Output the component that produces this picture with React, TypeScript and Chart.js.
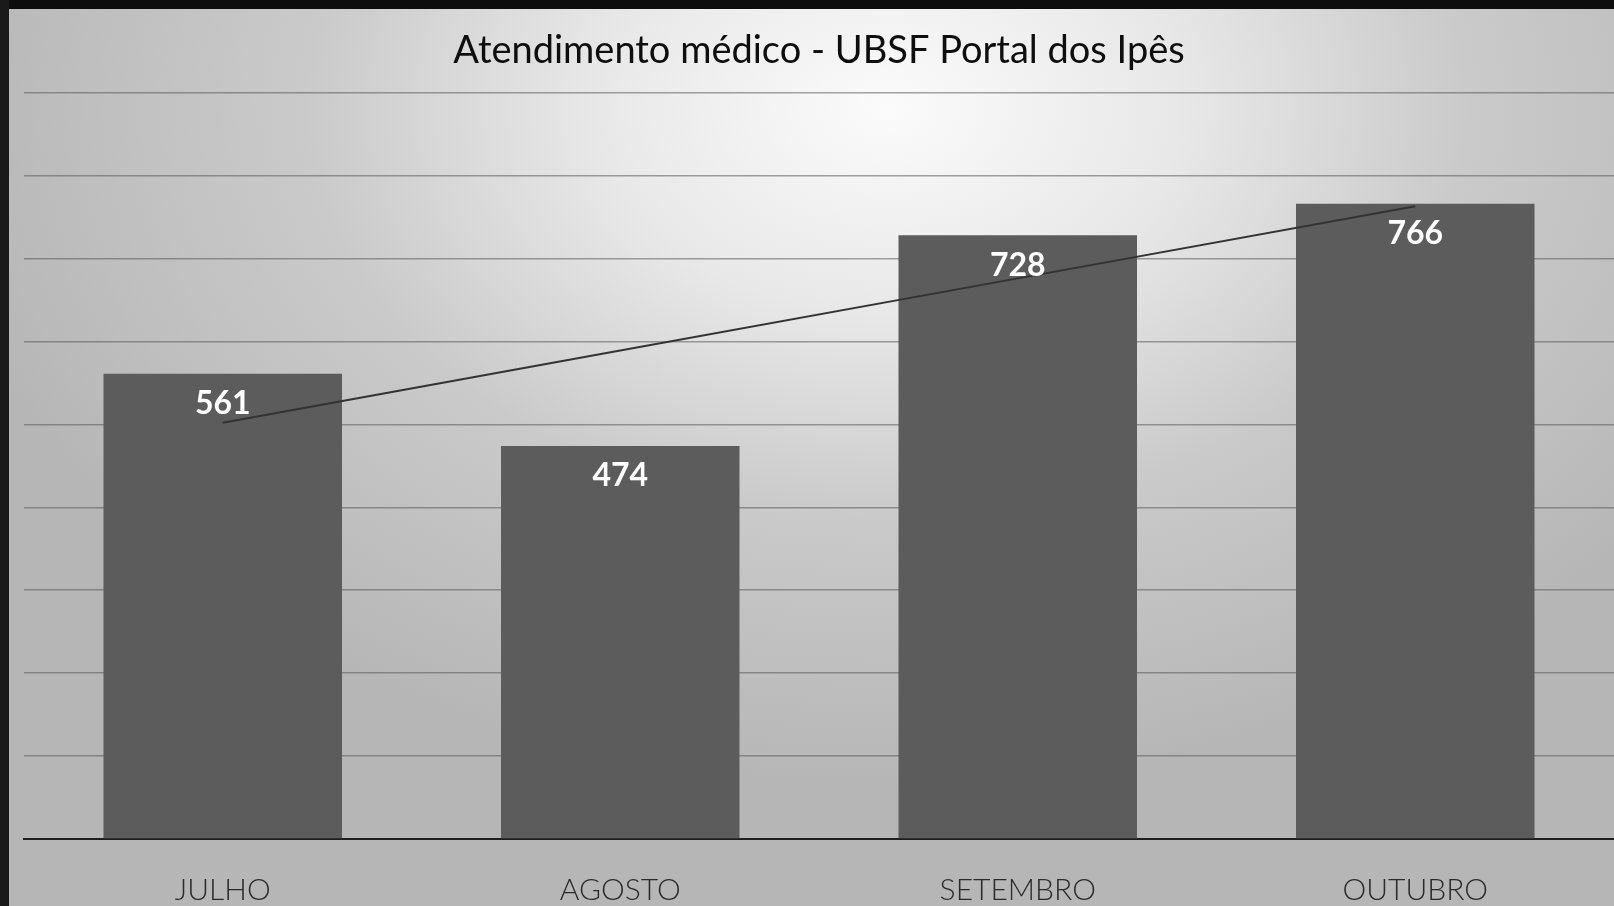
import React, { useEffect, useRef } from "react";
import { Chart, registerables } from "chart.js";

Chart.register(...registerables);

const categories = ["JULHO", "AGOSTO", "SETEMBRO", "OUTUBRO"];
const atendimentos = [561, 474, 728, 766];
const tendencia = [502, 589, 676, 763];
const titleText = "Atendimento médico - UBSF Portal dos Ipês";
const yMax = 900;
const yStep = 100;

const valueLabels = {
  id: "valueLabels",
  afterDatasetsDraw(chart: any) {
    const ctx = chart.ctx;
    const meta = chart.getDatasetMeta(1);
    ctx.save();
    ctx.fillStyle = "#ffffff";
    ctx.font = "bold 32px Lato, 'Open Sans', sans-serif";
    ctx.textAlign = "center";
    ctx.textBaseline = "middle";
    meta.data.forEach((bar: any, i: number) => {
      ctx.fillText(String(atendimentos[i]), bar.x, bar.y + 30);
    });
    ctx.restore();
  },
};

export default function App() {
  const ref = useRef<HTMLCanvasElement>(null);
  useEffect(() => {
    if (!ref.current) return;
    const chart = new Chart(ref.current, {
      type: "bar",
      data: {
        labels: categories,
        datasets: [
          {
            type: "line",
            label: "Tendência",
            data: tendencia,
            borderColor: "#333333",
            borderWidth: 2,
            pointRadius: 0,
            tension: 0,
            order: 0,
          } as any,
          {
            type: "bar",
            label: "Atendimentos",
            data: atendimentos,
            backgroundColor: "#5c5c5c",
            categoryPercentage: 0.6,
            barPercentage: 1,
            order: 1,
          },
        ],
      },
      options: {
        animation: false,
        responsive: false,
        layout: { padding: { left: 24, right: 0, top: 0, bottom: 0 } },
        plugins: {
          legend: { display: false },
          tooltip: { enabled: false },
          title: {
            display: true,
            text: titleText,
            color: "#0e0e0e",
            font: { family: "Lato, 'Open Sans', sans-serif", size: 38, weight: "normal" },
            padding: { top: 28, bottom: 19 },
          },
        },
        scales: {
          x: {
            grid: { display: false, drawTicks: false },
            border: { display: true, color: "#1e1e1e", width: 2 },
            ticks: {
              color: "#2a2a2a",
              font: { family: "Lato, 'Open Sans', sans-serif", size: 30, weight: 300 },
              padding: 33,
            },
          },
          y: {
            min: 0,
            max: yMax,
            ticks: { display: false, stepSize: yStep },
            grid: { color: "rgba(90,90,90,0.55)", lineWidth: 1.5, drawTicks: false },
            border: { display: false },
          },
        },
      },
      plugins: [valueLabels],
    });
    return () => chart.destroy();
  }, []);

  return (
    <div
      style={{
        position: "fixed",
        left: 0,
        top: 0,
        width: 1614,
        height: 906,
        overflow: "hidden",
        background:
          "radial-gradient(ellipse 60% 75% at 55% 12%, #fbfbfb 0%, #e8e8e8 30%, #cacaca 60%, #b6b6b6 100%)",
      }}
    >
      <div style={{ position: "absolute", left: 0, top: 0, width: 1614, height: 9, background: "#0d0d0d" }} />
      <div style={{ position: "absolute", left: 0, top: 0, width: 9, height: 906, background: "#1a1a1a" }} />
      <canvas ref={ref} width={1614} height={941} style={{ position: "absolute", left: 0, top: 0 }} />
    </div>
  );
}
